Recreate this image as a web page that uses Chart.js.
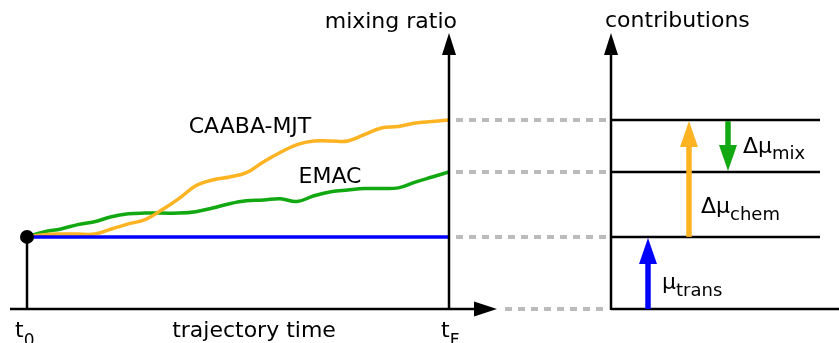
<!DOCTYPE html>
<html>
<head>
<meta charset="utf-8">
<script src="https://cdn.jsdelivr.net/npm/chart.js@4/dist/chart.umd.min.js"></script>
<style>
  html, body { margin: 0; padding: 0; background: #fff; }
  canvas { display: block; }
</style>
</head>
<body>
<canvas id="myCanvas" width="839" height="343"></canvas>
<script>
// trajectory time (0 = t0, 100 = tF)
const times = [0, 4, 8, 12, 16, 20, 24, 28, 32, 36, 40, 44, 48, 52, 56, 60, 64, 68, 72, 76, 80, 84, 88, 92, 96, 100]
// mixing ratio, CAABA-MJT box model
const caabaValues = [1.0, 1.03, 1.04, 1.04, 1.04, 1.11, 1.18, 1.24, 1.375, 1.53, 1.71, 1.79, 1.83, 1.89, 2.04, 2.17, 2.28, 2.33, 2.33, 2.33, 2.42, 2.51, 2.53, 2.58, 2.60, 2.62]
// mixing ratio, EMAC
const emacValues = [1.0, 1.07, 1.11, 1.17, 1.21, 1.28, 1.32, 1.33, 1.33, 1.33, 1.35, 1.40, 1.46, 1.50, 1.51, 1.53, 1.49, 1.57, 1.625, 1.65, 1.67, 1.67, 1.68, 1.76, 1.83, 1.90]
// transport only (initial value kept)
const transTimes = [0, 100]
const transValues = [1.0, 1.0]

const black = '#000000'
const gray = '#bbbbbb'
const orange = '#fdb322'
const green = '#12a812'
const blue = '#0000ff'
const font = '"DejaVu Sans", sans-serif'

function toPoints(xs, ys) {
  return xs.map((x, i) => ({ x: x, y: ys[i] }))
}

function arrowHead(ctx, x, y, dir, len, half, color) {
  // dir: 'up' | 'down' | 'right'
  ctx.fillStyle = color
  ctx.beginPath()
  if (dir === 'up') {
    ctx.moveTo(x, y); ctx.lineTo(x - half, y + len); ctx.lineTo(x + half, y + len)
  } else if (dir === 'down') {
    ctx.moveTo(x, y); ctx.lineTo(x - half, y - len); ctx.lineTo(x + half, y - len)
  } else {
    ctx.moveTo(x, y); ctx.lineTo(x - len, y - half); ctx.lineTo(x - len, y + half)
  }
  ctx.closePath()
  ctx.fill()
}

function line(ctx, x1, y1, x2, y2, color, width, dash) {
  ctx.save()
  ctx.strokeStyle = color
  ctx.lineWidth = width
  ctx.setLineDash(dash || [])
  ctx.beginPath()
  ctx.moveTo(x1, y1)
  ctx.lineTo(x2, y2)
  ctx.stroke()
  ctx.restore()
}

function subText(ctx, main, sub, x, y, size, subSize, drop) {
  ctx.fillStyle = black
  ctx.textAlign = 'left'
  ctx.textBaseline = 'alphabetic'
  ctx.font = size + 'px ' + font
  ctx.fillText(main, x, y)
  const w = ctx.measureText(main).width
  ctx.font = subSize + 'px ' + font
  ctx.fillText(sub, x + w, y + drop)
}

function levelArrow(ctx, x, yFrom, yTo, color) {
  const up = yTo < yFrom
  const headLen = 26
  const shaftEnd = up ? yTo + headLen - 2 : yTo - headLen + 2
  line(ctx, x, yFrom, x, shaftEnd, color, 5.5)
  arrowHead(ctx, x, yTo, up ? 'up' : 'down', headLen, 9, color)
}

const schematic = {
  id: 'schematic',
  beforeDatasetsDraw(chart) {
    const ctx = chart.ctx
    const xs = chart.scales.x
    const ys = chart.scales.y
    const x0 = xs.getPixelForValue(times[0])
    const yBase = ys.getPixelForValue(0)
    const yTrans = ys.getPixelForValue(transValues[0])
    line(ctx, x0, yTrans, x0, yBase, black, 2.5)
  },
  afterDatasetsDraw(chart) {
    const ctx = chart.ctx
    const xs = chart.scales.x
    const ys = chart.scales.y
    const xF = xs.getPixelForValue(times[times.length - 1])
    const yBase = ys.getPixelForValue(0)
    const yTrans = ys.getPixelForValue(transValues[transValues.length - 1])
    const yChem = ys.getPixelForValue(caabaValues[caabaValues.length - 1])
    const yMix = ys.getPixelForValue(emacValues[emacValues.length - 1])
    const rx = 611

    ctx.save()
    // left axes
    line(ctx, 10, yBase, 476, yBase, black, 2.5)
    arrowHead(ctx, 497, yBase, 'right', 23, 7.5, black)
    line(ctx, xF, yBase, xF, 54, black, 2.5)
    arrowHead(ctx, xF, 33, 'up', 22, 7, black)

    // dashed connectors
    const dash = [7, 6]
    line(ctx, 456, yChem, 606, yChem, gray, 4, dash)
    line(ctx, 456, yMix, 606, yMix, gray, 4, dash)
    line(ctx, 456, yTrans, 606, yTrans, gray, 4, dash)
    line(ctx, 505, yBase, 606, yBase, gray, 4, dash)

    // right axes
    line(ctx, rx, yBase + 1, rx, 54, black, 2.5)
    arrowHead(ctx, rx, 33, 'up', 22, 7, black)
    line(ctx, rx, yBase, 839, yBase, black, 2.5)
    line(ctx, rx, yTrans, 820, yTrans, black, 2.5)
    line(ctx, rx, yMix, 820, yMix, black, 2.5)
    line(ctx, rx, yChem, 820, yChem, black, 2.5)

    // contribution arrows
    levelArrow(ctx, 648, yBase, yTrans + 1, blue)
    levelArrow(ctx, 689, yTrans, yChem + 1, orange)
    levelArrow(ctx, 728, yChem + 1, yMix - 1, green)

    // texts
    ctx.fillStyle = black
    ctx.font = '22px ' + font
    ctx.textBaseline = 'alphabetic'
    ctx.textAlign = 'right'
    ctx.fillText('mixing ratio', 457, 28)
    ctx.textAlign = 'left'
    ctx.fillText('contributions', 605, 27)
    ctx.textAlign = 'center'
    ctx.fillText('trajectory time', 254, 337)
    ctx.fillText('CAABA-MJT', 250, 133)
    ctx.fillText('EMAC', 330, 183)

    subText(ctx, 't', '0', 15, 337, 22, 17, 9)
    subText(ctx, 't', 'F', 441, 337, 22, 17, 9)
    subText(ctx, 'μ', 'trans', 662, 289, 22, 18, 7)
    subText(ctx, 'Δμ', 'chem', 701, 213, 22, 18, 7)
    subText(ctx, 'Δμ', 'mix', 743, 153, 22, 18, 6)
    ctx.restore()
  }
}

const context = document.getElementById('myCanvas').getContext('2d')

new Chart(context, {
  type: 'line',
  data: {
    datasets: [
      {
        label: 'transport',
        data: toPoints(transTimes, transValues),
        borderColor: blue,
        borderWidth: 3.5,
        pointRadius: [7, 0],
        pointBackgroundColor: black,
        pointBorderWidth: 0,
        tension: 0,
        fill: false,
        clip: false
      },
      {
        label: 'CAABA-MJT',
        data: toPoints(times, caabaValues),
        borderColor: orange,
        borderWidth: 3.5,
        pointRadius: 0,
        tension: 0.4,
        fill: false
      },
      {
        label: 'EMAC',
        data: toPoints(times, emacValues),
        borderColor: green,
        borderWidth: 3.5,
        pointRadius: 0,
        tension: 0.4,
        fill: false
      }
    ]
  },
  options: {
    responsive: false,
    animation: false,
    events: [],
    layout: {
      padding: { left: 27, right: 390, top: 35, bottom: 34 }
    },
    plugins: {
      legend: { display: false },
      tooltip: { enabled: false },
      title: { display: false }
    },
    scales: {
      x: { type: 'linear', min: 0, max: 100, display: false },
      y: { min: 0, max: 3.8, display: false }
    }
  },
  plugins: [schematic]
})
</script>
</body>
</html>
